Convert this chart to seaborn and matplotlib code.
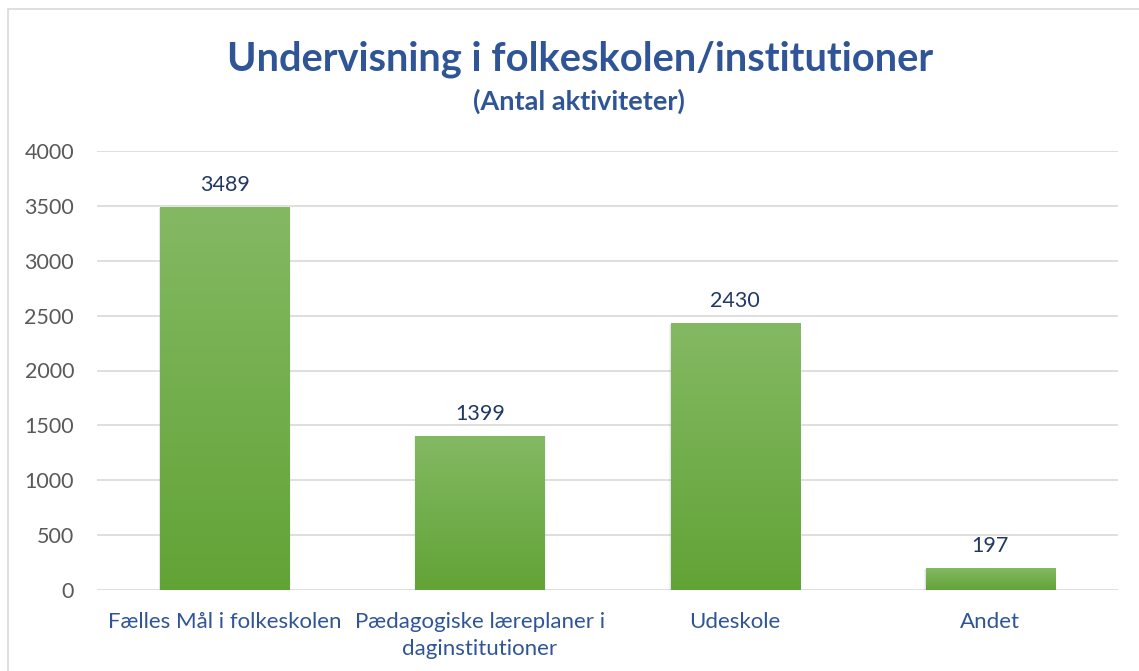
import numpy as np
import pandas as pd
import matplotlib
matplotlib.use("Agg")
import matplotlib.pyplot as plt
import seaborn as sns
from matplotlib.colors import LinearSegmentedColormap
from matplotlib.patches import Rectangle

categories = ["Fælles Mål i folkeskolen", "Pædagogiske læreplaner i\ndaginstitutioner", "Udeskole", "Andet"]
values = [3489, 1399, 2430, 197]
yticks = [0, 500, 1000, 1500, 2000, 2500, 3000, 3500, 4000]
title = "Undervisning i folkeskolen/institutioner"
subtitle = "(Antal aktiviteter)"

sns.set_theme(style="white")
plt.rcParams['font.family'] = ['Lato', 'DejaVu Sans']

fig = plt.figure(figsize=(11.39, 6.71), dpi=100)
ax = fig.add_axes([97/1139, 1 - 590/671, (1118-97)/1139, (590-151)/671])

df = pd.DataFrame({"cat": categories, "val": values})
sns.barplot(data=df, x="cat", y="val", ax=ax, color="#70AD47", width=0.506, zorder=3)

cmap = LinearSegmentedColormap.from_list("g", ["#62A336", "#84B963"])
grad = np.linspace(0, 1, 256).reshape(-1, 1)
for p in list(ax.patches):
    x0, y0 = p.get_x(), p.get_y()
    w, h = p.get_width(), p.get_height()
    for k, a in [(0.006, 0.08), (0.012, 0.05)]:
        sh = Rectangle((x0 - k / 2, y0 - 12), w + k, h + 6, facecolor="#000000", alpha=a,
                       zorder=2, linewidth=0)
        ax.add_patch(sh)
    im = ax.imshow(grad, extent=[x0, x0 + w, y0, y0 + h], origin="lower", cmap=cmap,
                   aspect="auto", zorder=4)
    im.set_clip_path(p)
    ax.annotate(f"{int(h)}", (x0 + w / 2, y0 + h), xytext=(0, 9), textcoords="offset points",
                ha="center", va="bottom", fontsize=15.5, color="#203864", zorder=5)

ax.set_xlim(-0.5, len(categories) - 0.5)
ax.set_ylim(0, 4000)
ax.set_yticks(yticks)
ax.set_yticklabels([str(t) for t in yticks], fontsize=15.5, color="#595959")
ax.set_xticks(range(len(categories)))
ax.set_xticklabels(categories, fontsize=16, color="#2F5597", linespacing=1.45)
ax.tick_params(axis="y", length=0, pad=16.5)
ax.tick_params(axis="x", length=0, pad=16)
ax.set_xlabel("")
ax.set_ylabel("")
ax.grid(axis="y", color="#D9D9D9", linewidth=1.2, zorder=0)
ax.set_axisbelow(True)
for s in ax.spines.values():
    s.set_visible(False)

fig.text(0.509, 1 - 59/671, title, ha="center", va="center", fontsize=28.7, fontweight="bold", color="#2F5597")
fig.text(0.508, 1 - 101/671, subtitle, ha="center", va="center", fontsize=19.5, fontweight="bold", color="#2F5597")

border = Rectangle((8/1139, -0.01), 1.0, 1 - 9/671 + 0.01, transform=fig.transFigure,
                   fill=False, edgecolor="#D9D9D9", linewidth=1.2)
fig.patches.append(border)

fig.savefig("out.png", dpi=100)
